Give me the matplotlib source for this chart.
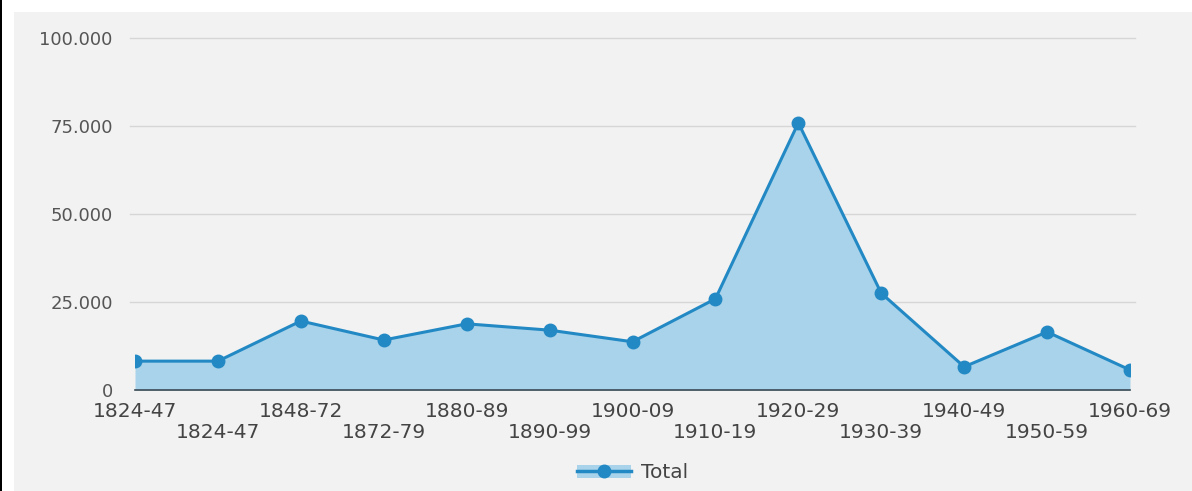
import numpy as np
import matplotlib.pyplot as plt
from matplotlib.lines import Line2D
from matplotlib.patches import Patch, Rectangle

periods = ['1824-47', '1824-47', '1848-72', '1872-79', '1880-89', '1890-99', '1900-09',
           '1910-19', '1920-29', '1930-39', '1940-49', '1950-59', '1960-69']
total = [8200, 8200, 19600, 14200, 18800, 17000, 13700, 25900, 75900, 27500, 6600, 16500, 5700]
yticks = [0, 25000, 50000, 75000, 100000]
ytick_labels = ['0', '25.000', '50.000', '75.000', '100.000']

line_col = '#2389c4'
fill_col = '#a9d3ea'
bg = '#f2f2f2'
txt = '#444444'

fig = plt.figure(figsize=(11.92, 4.91), dpi=100)
fig.patch.set_facecolor('white')
# page background + left border
fig.patches.append(Rectangle((14 / 1192, 0), 1, 1 - 12 / 491, transform=fig.transFigure,
                             facecolor=bg, edgecolor='none', zorder=-10))
fig.patches.append(Rectangle((0, 0), 2 / 1192, 1, transform=fig.transFigure,
                             facecolor='black', edgecolor='none', zorder=-10))

ax = fig.add_axes([135 / 1192, 101 / 491, 995 / 1192, 352 / 491])
ax.set_facecolor('none')
x = np.arange(len(periods))

ax.fill_between(x, total, 0, color=fill_col, lw=0, zorder=2)
ax.plot(x, total, '-o', color=line_col, lw=2.2, markersize=9, zorder=3)

ax.set_xlim(0, len(periods) - 1)
ax.set_ylim(0, 100000)
ax.set_yticks(yticks)
ax.set_yticklabels(ytick_labels, fontsize=13, color='#555555')
for y in yticks[1:]:
    ax.axhline(y, xmin=-0.005, xmax=1.005, color='#d6d6d6', lw=1, zorder=1, clip_on=False)

ax.set_xticks(x)
ax.set_xticklabels([])
ax.tick_params(axis='y', length=0, pad=16)
ax.tick_params(axis='x', length=0)
for i, p in enumerate(periods):
    yy = -0.06 if i % 2 == 0 else -0.12
    ax.text(i, yy, p, transform=ax.get_xaxis_transform(), ha='center', va='center',
            fontsize=14.5, color=txt)

for s in ['top', 'right', 'left']:
    ax.spines[s].set_visible(False)
ax.spines['bottom'].set_color('#3a4a55')
ax.spines['bottom'].set_linewidth(1.2)
ax.spines['bottom'].set_zorder(4)

h_fill = Patch(facecolor=fill_col, edgecolor='none')
h_line = Line2D([], [], color=line_col, lw=2.5, marker='o', markersize=9)
ax.legend([(h_fill, h_line)], ['Total'], loc='center', bbox_to_anchor=(0.5, -0.235),
          frameon=False, fontsize=14.5, handlelength=2.7, handleheight=0.6,
          handletextpad=0.5, labelcolor=txt)

plt.savefig('out.png', dpi=100, facecolor=fig.get_facecolor())
